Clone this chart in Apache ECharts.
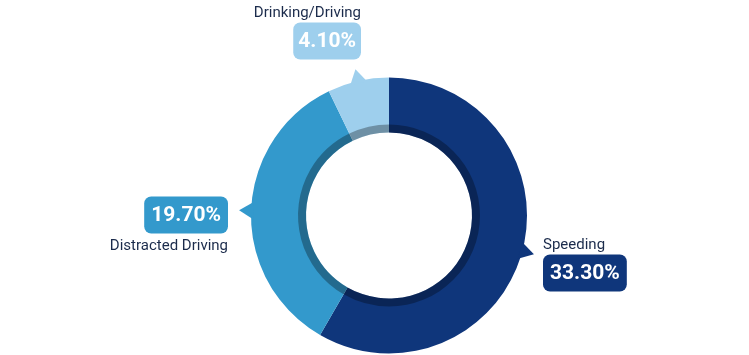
<!DOCTYPE html>
<html>
<head>
<meta charset="utf-8">
<script src="https://cdn.jsdelivr.net/npm/echarts@6/dist/echarts.min.js"></script>
<style>
html,body{margin:0;padding:0;background:#fff;}
#c{width:749px;height:355px;}
</style>
</head>
<body>
<div id="c"></div>
<script>
const categories = ['Speeding', 'Distracted Driving', 'Drinking/Driving'];
const values = [33.3, 19.7, 4.1];
const valueLabels = ['33.30%', '19.70%', '4.10%'];
const colors = ['#0f367b', '#3399cc', '#9ecfed'];

const total = values.reduce((a, b) => a + b, 0);
const mids = [];
let acc = 0;
values.forEach(v => { mids.push(acc + v / 2); acc += v; });

// label layout (style/positions)
const labelPos = [
  { x: 543, y: 284, align: 'left', va: 'bottom', hp: 7 },
  { x: 228, y: 204, align: 'right', va: 'top', hp: 7 },
  { x: 361, y: 52, align: 'right', va: 'bottom', hp: 5 }
];

const CX = 389, CY = 215.5;

const chart = echarts.init(document.getElementById('c'), null, { renderer: 'canvas' });

function fmt(p) {
  const i = p.dataIndex;
  const box = 'b' + i;
  if (i === 1) return '{' + box + '|' + valueLabels[i] + '}\n{nameB|' + categories[i] + '}';
  return '{nameT|' + categories[i] + '}\n{' + box + '|' + valueLabels[i] + '}';
}

const rich = {
  nameT: { fontFamily: 'Roboto', fontSize: 15, color: '#1b2b4b', lineHeight: 20, padding: [0, 0, 13, 0] },
  nameB: { fontFamily: 'Roboto', fontSize: 15, color: '#1b2b4b', lineHeight: 20, padding: [20, 0, 0, 0] }
};
colors.forEach((c, i) => {
  const hp = labelPos[i].hp;
  rich['b' + i] = {
    fontFamily: 'Roboto', fontSize: 21, fontWeight: 'bold', color: '#fff',
    backgroundColor: c, borderRadius: 7, padding: [9, hp, 7, hp], lineHeight: 22
  };
});

chart.setOption({
  animation: false,
  polar: { center: [CX, CY], radius: 150 },
  angleAxis: { type: 'value', min: 0, max: total, startAngle: 90, clockwise: true, show: false },
  radiusAxis: { type: 'value', min: 0, max: 150, show: false },
  series: [
    {
      type: 'pie',
      center: [CX, CY],
      radius: [83, 138],
      startAngle: 90,
      clockwise: true,
      silent: true,
      z: 2,
      data: categories.map((n, i) => ({ name: n, value: values[i], itemStyle: { color: colors[i] } })),
      label: {
        show: true,
        position: 'outside',
        formatter: fmt,
        rich: rich
      },
      labelLine: { show: false },
      labelLayout: function (p) {
        const lp = labelPos[p.dataIndex];
        return { x: lp.x, y: lp.y, align: lp.align, verticalAlign: lp.va };
      }
    },
    {
      type: 'pie',
      center: [CX, CY],
      radius: [83, 91],
      startAngle: 90,
      clockwise: true,
      silent: true,
      z: 3,
      data: categories.map((n, i) => ({ name: n, value: values[i], itemStyle: { color: 'rgba(0,0,0,0.3)' } })),
      label: { show: false },
      labelLine: { show: false }
    },
    {
      type: 'custom',
      coordinateSystem: 'polar',
      silent: true,
      z: 4,
      data: mids.map((m, i) => [m, i]),
      renderItem: function (params, api) {
        const a = api.value(0);
        const i = api.value(1);
        const half = 3.6 / 360 * total;
        const p1 = api.coord([136, a - half]);
        const p2 = api.coord([136, a + half]);
        const tip = api.coord([150, a]);
        return {
          type: 'polygon',
          shape: { points: [p1, tip, p2] },
          style: { fill: colors[i] }
        };
      }
    }
  ]
});
</script>
</body>
</html>
